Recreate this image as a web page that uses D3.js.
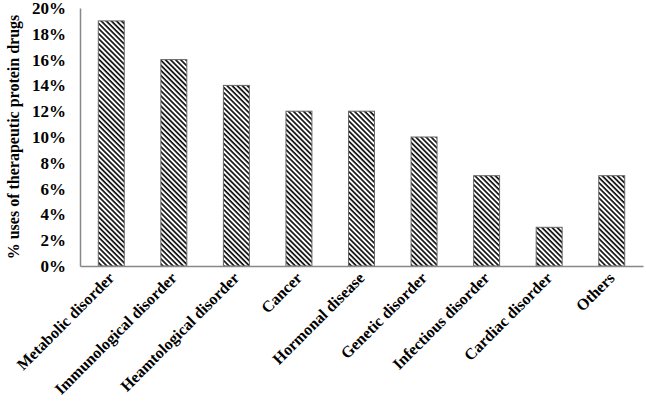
<!DOCTYPE html>
<html><head><meta charset="utf-8">
<script src="https://cdn.jsdelivr.net/npm/d3@7"></script>
<style>body{margin:0;background:#fff}svg{display:block}text{font-family:"Liberation Serif","Times New Roman",serif;font-weight:bold;fill:#000}</style>
</head><body>
<script>
const categories = ["Metabolic disorder","Immunological disorder","Heamtological disorder","Cancer","Hormonal disease","Genetic disorder","Infectious disorder","Cardiac disorder","Others"];
const values = [19,16,14,12,12,10,7,3,7];
const yTicks = [0,2,4,6,8,10,12,14,16,18,20];

const W=646,H=401;
const svg=d3.select("body").append("svg").attr("width",W).attr("height",H);
const defs=svg.append("defs");
const pat=defs.append("pattern").attr("id","hatch").attr("patternUnits","userSpaceOnUse")
  .attr("width",3.6).attr("height",3.6).attr("patternTransform","rotate(45)");
pat.append("rect").attr("width",3.6).attr("height",3.6).attr("fill","#fff");
pat.append("rect").attr("x",0).attr("y",0).attr("width",3.6).attr("height",1.7).attr("fill","#111");

const x=d3.scaleBand().domain(categories).range([80,643]).paddingInner(0.585).paddingOuter(0.2925);
const y=d3.scaleLinear().domain([0,20]).range([266,8]);

svg.append("g").selectAll("rect").data(values).join("rect")
  .attr("x",(d,i)=>x(categories[i])).attr("width",x.bandwidth())
  .attr("y",d=>y(d)).attr("height",d=>y(0)-y(d))
  .attr("fill","url(#hatch)").attr("stroke","#666").attr("stroke-width",1);

const ya=svg.append("g").attr("transform","translate(80,0)")
  .call(d3.axisLeft(y).tickValues(yTicks).tickSize(0).tickPadding(14).tickFormat(d=>d+"%"));
ya.select(".domain").attr("stroke","#888").attr("stroke-width",1.5);
ya.selectAll("text").attr("font-size",17).attr("font-family",null);

const xa=svg.append("g").attr("transform","translate(0,266)")
  .call(d3.axisBottom(x).tickSize(0).tickPadding(0));
xa.select(".domain").attr("stroke","#888").attr("stroke-width",1.5);
xa.selectAll("text").attr("font-size",16).attr("font-family",null)
  .attr("text-anchor","end").attr("dy",null).attr("y",0)
  .attr("transform","translate(4,13) rotate(-45)");

svg.append("text").attr("transform","translate(19,137) rotate(-90)")
  .attr("text-anchor","middle").attr("font-size",16)
  .text("% uses of therapeutic protein drugs");
</script>
</body></html>
